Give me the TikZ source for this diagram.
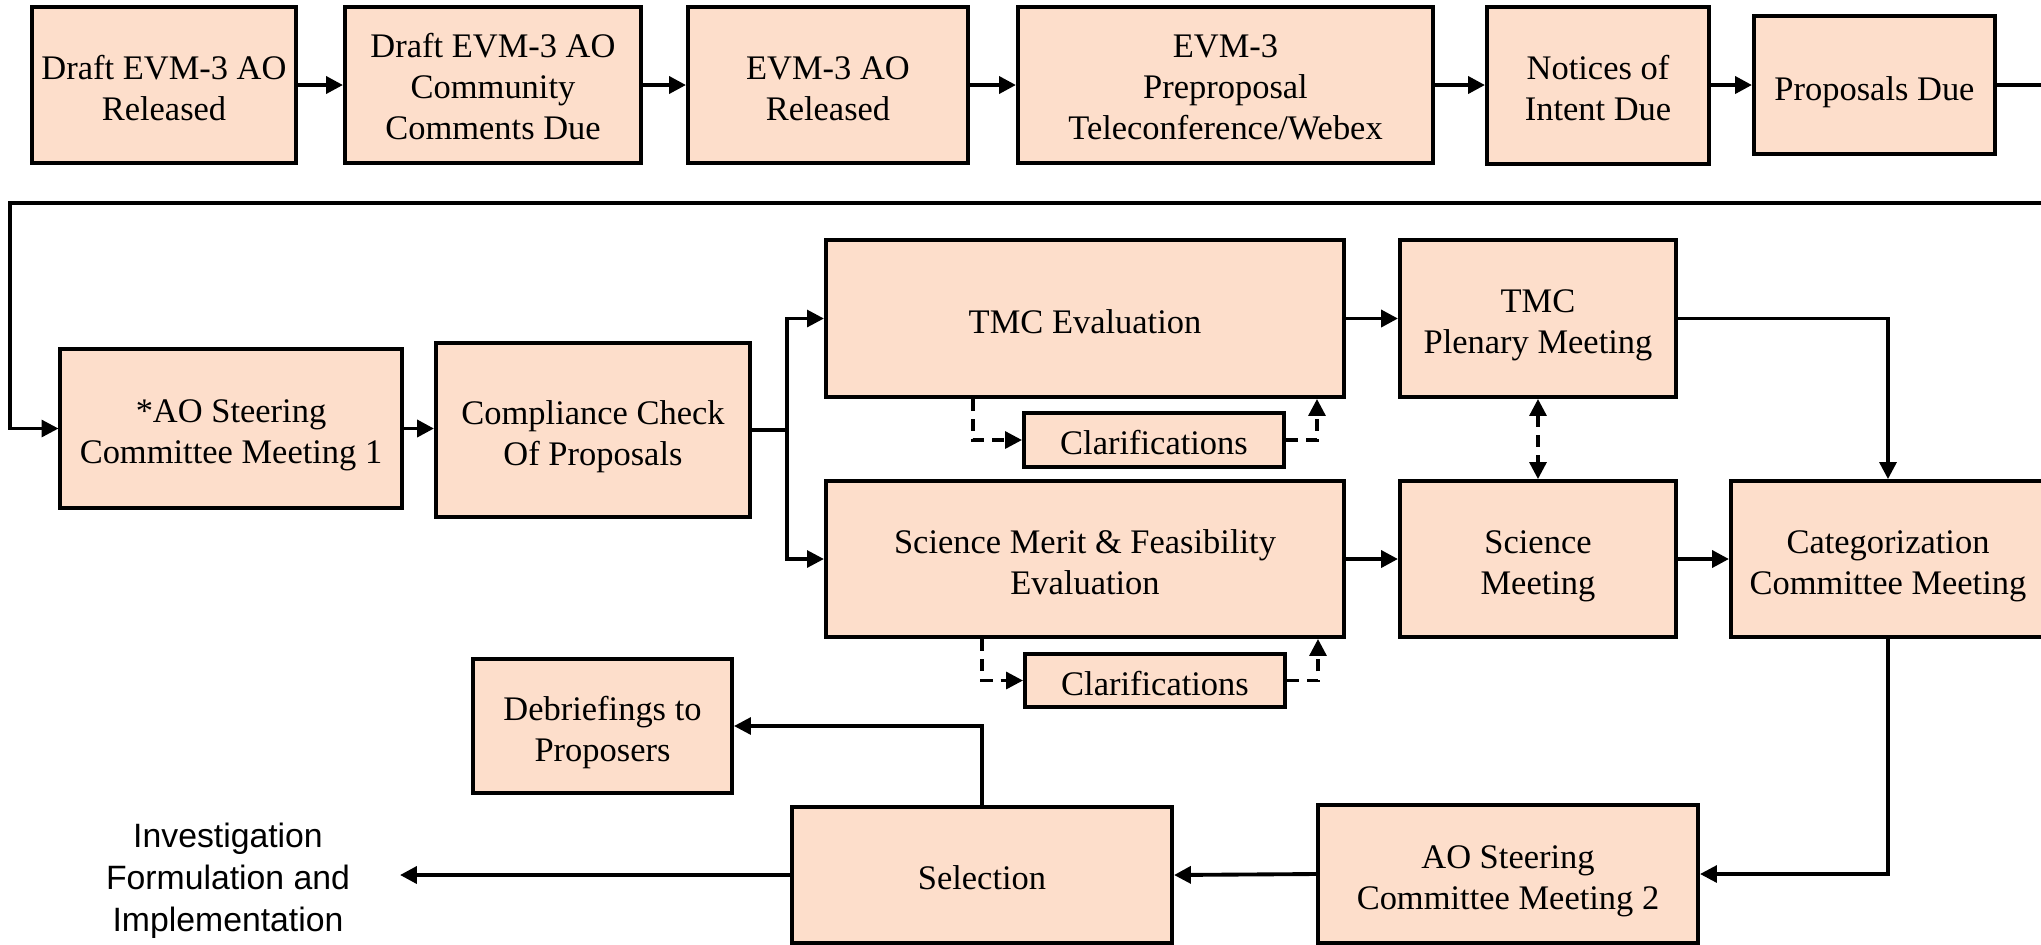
\documentclass[tikz,border=0pt]{standalone}
\usepackage{fontspec}
\setmainfont{Liberation Serif}
\newfontfamily\sansf{Liberation Sans}
\usetikzlibrary{arrows.meta,calc}
\definecolor{peach}{RGB}{253,222,203}
\begin{document}
\begin{tikzpicture}[x=0.01cm,y=-0.01cm,
  box/.style={draw=black,line width=1.1pt,fill=peach,align=center,inner sep=0pt,
    font=\fontsize{9.8}{11.7}\selectfont,text depth=0pt,text height=20.1pt},
  onebox/.style={box,text height=8.3pt},
  threebox/.style={box,text height=31.2pt},
  tip/.style={-{Triangle[length=4.8pt,width=4.8pt]}},
  conn/.style={line width=1.1pt,tip},
  thinconn/.style={line width=0.95pt,tip},
  plainline/.style={line width=0.95pt},
  dashconn/.style={line width=0.95pt,dash pattern=on 3.4pt off 2.3pt,tip},
  dashboth/.style={line width=0.95pt,dash pattern=on 3.4pt off 2.3pt,
    {Triangle[length=4.8pt,width=4.8pt]}-{Triangle[length=4.8pt,width=4.8pt]}}
]
\useasboundingbox (0,0) rectangle (2041,944);
\fill[white] (0,0) rectangle (2041,944);

% Row 1
\node[box,minimum width=2.63cm,minimum height=1.56cm] (d1) at (164,85) {Draft EVM-3 AO\\Released};
\node[threebox,minimum width=2.96cm,minimum height=1.56cm] (d2) at (493,85) {Draft EVM-3 AO\\Community\\Comments Due};
\node[box,minimum width=2.80cm,minimum height=1.56cm] (d3) at (828,85) {EVM-3 AO\\Released};
\node[threebox,minimum width=4.15cm,minimum height=1.56cm] (d4) at (1225.5,85) {EVM-3\\Preproposal\\Teleconference/Webex};
\node[box,minimum width=2.22cm,minimum height=1.57cm] (d5) at (1598,85.5) {Notices of\\Intent Due};
\node[onebox,minimum width=2.41cm,minimum height=1.38cm,text height=8.9pt] (d6) at (1874.5,85) {Proposals Due};

% Row 2
\node[box,minimum width=3.41cm,minimum height=1.59cm] (ao1) at (231,428.5) {*AO Steering\\Committee Meeting 1};
\node[box,minimum width=3.14cm,minimum height=1.74cm] (cc) at (593,430) {Compliance Check\\Of Proposals};
\node[onebox,minimum width=5.18cm,minimum height=1.57cm] (tmc) at (1085,318.5) {TMC Evaluation};
\node[box,minimum width=2.76cm,minimum height=1.57cm] (plen) at (1538,318.5) {TMC\\Plenary Meeting};
\node[onebox,minimum width=2.60cm,minimum height=0.54cm] (clar1) at (1154,440) {Clarifications};
\node[box,minimum width=5.18cm,minimum height=1.56cm] (sci) at (1085,559) {Science Merit \& Feasibility\\Evaluation};
\node[box,minimum width=2.76cm,minimum height=1.56cm] (scim) at (1538,559) {Science\\Meeting};
\node[box,minimum width=3.14cm,minimum height=1.56cm] (cat) at (1888,559) {Categorization\\Committee Meeting};
\node[onebox,minimum width=2.60cm,minimum height=0.53cm] (clar2) at (1155,680.5) {Clarifications};

% Row 3
\node[box,minimum width=2.59cm,minimum height=1.34cm] (deb) at (602.5,726) {Debriefings to\\Proposers};
\node[onebox,minimum width=3.80cm,minimum height=1.36cm] (sel) at (982,875) {Selection};
\node[box,minimum width=3.80cm,minimum height=1.38cm] (ao2) at (1508,874) {AO Steering\\Committee Meeting 2};
\node[align=center,inner sep=0pt,font=\sansf\fontsize{9.6}{11.9}\selectfont] (inv) at (228,881) {Investigation\\Formulation and\\Implementation};

% helper coordinates
\coordinate (outR) at (2050,85);
\coordinate (backR) at (2050,203);
\coordinate (backL) at (10,203);
\coordinate (br) at (787,430);
\coordinate (invtip) at (400,875);

% Row 1 connectors
\draw[conn] (d1.east) -- (d2.west);
\draw[conn] (d2.east) -- (d3.west);
\draw[conn] (d3.east) -- (d4.west);
\draw[conn] (d4.east) -- (d4.east -| d5.west);
\draw[conn] (d5.east |- d6.east) -- (d6.west);
\draw[plainline] (d6.east) -- (outR);
\draw[thinconn] (backR) -- (backL) |- (ao1.west);

% Row 2 connectors
\draw[conn] (ao1.east) -- (ao1.east -| cc.west);
\draw[line width=1.1pt] (cc.east) -- (br);
\draw[thinconn] (br) |- (tmc.west);
\draw[thinconn] (br) |- (sci.west);
\draw[conn] (tmc.east) -- (plen.west);
\draw[thinconn] (plen.east) -| (cat.north);
\draw[conn] (sci.east) -- (scim.west);
\draw[conn] (scim.east) -- (cat.west);
\draw[dashboth] (plen.south) -- (scim.north);

% Clarifications loops
\draw[dashconn] ($(tmc.south)+(-112,0)$) |- (clar1.west);
\draw[dashconn] (clar1.east) -| ($(tmc.south)+(232,0)$);
\draw[dashconn] ($(sci.south)+(-103,0)$) |- (clar2.west);
\draw[dashconn] (clar2.east) -| ($(sci.south)+(233,0)$);

% Row 3 connectors
\draw[thinconn] (cat.south) |- (ao2.east);
\draw[conn] (ao2.west) -- (sel.east);
\draw[thinconn] (sel.north) |- (deb.east);
\draw[conn] (sel.west) -- (invtip);
\end{tikzpicture}
\end{document}
